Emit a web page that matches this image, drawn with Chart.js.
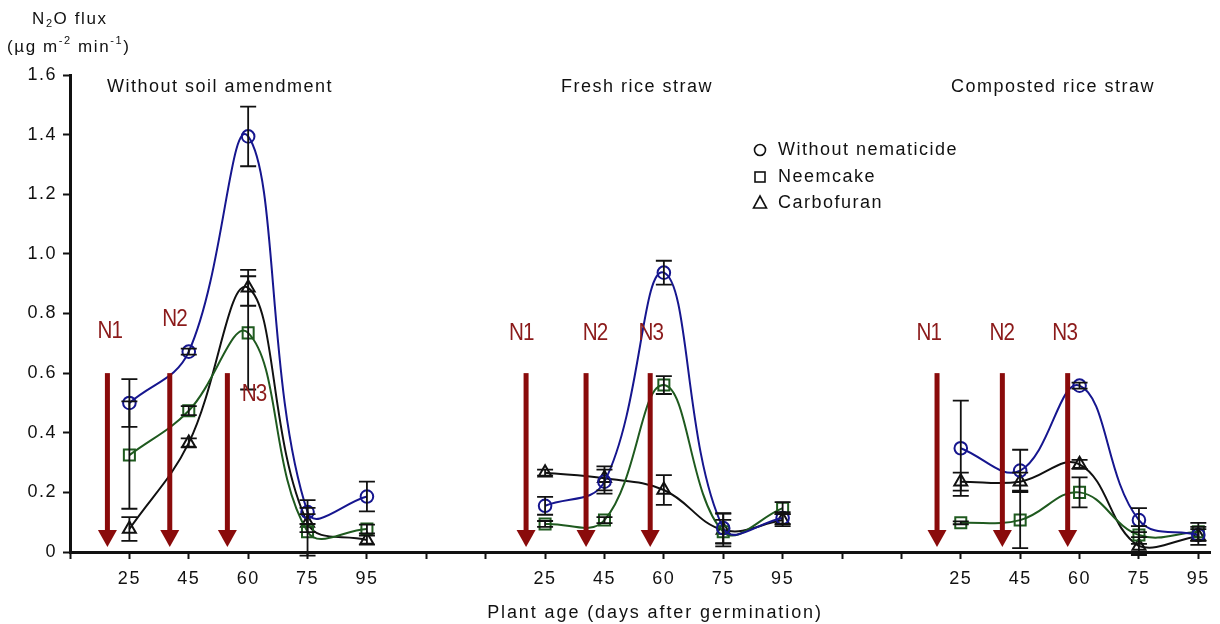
<!DOCTYPE html>
<html>
<head>
<meta charset="utf-8">
<script src="https://cdn.jsdelivr.net/npm/chart.js@4/dist/chart.umd.min.js"></script>
<style>
html,body{margin:0;padding:0;background:#fff;}
#wrap{width:1220px;height:624px;position:relative;}
</style>
</head>
<body>
<div id="wrap"><canvas id="c" width="1220" height="624"></canvas></div>
<script>
// ---- data ----
const days = ['25', '45', '60', '75', '95'];
const panelTitles = ['Without soil amendment', 'Fresh rice straw', 'Composted rice straw'];
const xTickLabels = ['', '25', '45', '60', '75', '95', '', '', '25', '45', '60', '75', '95', '', '', '25', '45', '60', '75', '95'];
const yTickValues = [0, 0.2, 0.4, 0.6, 0.8, 1.0, 1.2, 1.4, 1.6];
const yTickLabels = ['0', '0.2', '0.4', '0.6', '0.8', '1.0', '1.2', '1.4', '1.6'];
const seriesNames = ['Without nematicide', 'Neemcake', 'Carbofuran'];

// values: panel 1 (5), panel 2 (5), panel 3 (5)
const withoutNematicide = [0.50, 0.672, 1.394, 0.134, 0.186, 0.155, 0.236, 0.937, 0.080, 0.114, 0.348, 0.273, 0.558, 0.107, 0.057];
const withoutNematicideErr = [0.08, 0.01, 0.10, 0.04, 0.05, 0.03, 0.04, 0.04, 0.05, 0.02, 0.16, 0.07, 0.01, 0.04, 0.02];
const neemcake = [0.325, 0.474, 0.735, 0.068, 0.077, 0.094, 0.107, 0.560, 0.068, 0.147, 0.098, 0.107, 0.200, 0.057, 0.068];
const neemcakeErr = [0.18, 0.015, 0.19, 0.08, 0.015, 0.01, 0.01, 0.03, 0.04, 0.02, 0.005, 0.094, 0.05, 0.03, 0.03];
const carbofuran = [0.077, 0.366, 0.886, 0.097, 0.040, 0.266, 0.247, 0.208, 0.074, 0.107, 0.236, 0.236, 0.294, 0.020, 0.054];
const carbofuranErr = [0.04, 0.015, 0.06, 0.03, 0.015, 0.01, 0.04, 0.05, 0.055, 0.02, 0.03, 0.03, 0.015, 0.03, 0.03];

// N application arrows (x in axis index units) and labels
const arrowX = [0.63, 1.68, 2.65, 7.68, 8.69, 9.77, 14.6, 15.7, 16.8];
const arrowTop = 0.6;
const nLabels = ['N1', 'N2', 'N3', 'N1', 'N2', 'N3', 'N1', 'N2', 'N3'];
const nLabelX = [0.67, 1.76, 3.1, 7.6, 8.84, 9.78, 14.46, 15.69, 16.75];
const nLabelY = [0.74, 0.78, 0.53, 0.735, 0.735, 0.735, 0.735, 0.735, 0.735];

// ---- build ----
const series = [
  {name: seriesNames[0], vals: withoutNematicide, err: withoutNematicideErr, color: '#16168f', style: 'circle', r: 6.3},
  {name: seriesNames[1], vals: neemcake, err: neemcakeErr, color: '#1f5a1f', style: 'rect', r: 7.8},
  {name: seriesNames[2], vals: carbofuran, err: carbofuranErr, color: '#111111', style: 'triangle', r: 7.5}
];
const datasets = [];
series.forEach(s => {
  for (let p = 0; p < 3; p++) {
    const pts = days.map((d, i) => ({x: 1 + p * 7 + i, y: s.vals[p * 5 + i], e: s.err[p * 5 + i]}));
    datasets.push({
      label: s.name, data: pts, borderColor: s.color, borderWidth: 2,
      pointStyle: s.style, pointRadius: s.r, pointBorderWidth: 2,
      pointBorderColor: s.color, pointBackgroundColor: 'rgba(0,0,0,0)',
      tension: 0.4, fill: false
    });
  }
});

const FONT = '"Liberation Sans", Arial, sans-serif';
Chart.defaults.font.family = FONT;
Chart.defaults.font.size = 18;
Chart.defaults.color = '#111';

function richText(ctx, x, y, parts, size) {
  let cx = x;
  parts.forEach(p => {
    let fs = size, dy = 0;
    if (p.sub) { fs = 11; dy = 5; }
    if (p.sup) { fs = 11; dy = -6; }
    ctx.font = fs + 'px ' + FONT;
    ctx.fillText(p.t, cx, y + dy);
    cx += ctx.measureText(p.t).width;
  });
}

const decor = {
  id: 'decor',
  beforeDraw(chart) {
    chart.ctx.letterSpacing = '1.5px';
  },
  afterDatasetsDraw(chart) {
    const ctx = chart.ctx, xs = chart.scales.x, ys = chart.scales.y;
    // error bars
    ctx.save();
    ctx.strokeStyle = '#111';
    ctx.lineWidth = 1.8;
    chart.data.datasets.forEach(ds => {
      ds.data.forEach(pt => {
        const px = xs.getPixelForValue(pt.x);
        const y1 = ys.getPixelForValue(pt.y + pt.e);
        const y2 = ys.getPixelForValue(pt.y - pt.e);
        ctx.beginPath();
        ctx.moveTo(px, y1); ctx.lineTo(px, y2);
        ctx.moveTo(px - 8, y1); ctx.lineTo(px + 8, y1);
        ctx.moveTo(px - 8, y2); ctx.lineTo(px + 8, y2);
        ctx.stroke();
      });
    });
    ctx.restore();
    // arrows
    ctx.save();
    ctx.fillStyle = '#8a0b0b';
    arrowX.forEach(ax => {
      const px = xs.getPixelForValue(ax);
      const top = ys.getPixelForValue(arrowTop);
      const tip = ys.getPixelForValue(0.017);
      const headH = 17, headW = 9.5;
      ctx.fillRect(px - 2.5, top, 5, tip - headH - top + 1);
      ctx.beginPath();
      ctx.moveTo(px - headW, tip - headH);
      ctx.lineTo(px + headW, tip - headH);
      ctx.lineTo(px, tip);
      ctx.closePath();
      ctx.fill();
    });
    // N labels (tall, condensed)
    ctx.fillStyle = '#8b1a1a';
    ctx.font = '24px ' + FONT;
    ctx.letterSpacing = '-1px';
    ctx.textAlign = 'center';
    ctx.textBaseline = 'middle';
    nLabels.forEach((t, i) => {
      const px = xs.getPixelForValue(nLabelX[i]);
      const py = ys.getPixelForValue(nLabelY[i]);
      ctx.save();
      ctx.translate(px, py);
      ctx.scale(0.86, 1);
      ctx.fillText(t, 0, 0);
      ctx.restore();
    });
    ctx.restore();
  },
  afterDraw(chart) {
    const ctx = chart.ctx;
    ctx.save();
    ctx.fillStyle = '#111';
    ctx.letterSpacing = '1.5px';
    ctx.textBaseline = 'middle';
    ctx.textAlign = 'center';
    ctx.font = '18px ' + FONT;
    // panel titles
    const tx = [219, 636, 1052];
    panelTitles.forEach((t, i) => ctx.fillText(t, tx[i] + 1, 87));
    // x axis title
    ctx.letterSpacing = '1.9px';
    ctx.fillText('Plant age (days after germination)', 655, 613);
    // legend
    ctx.textAlign = 'left';
    ctx.letterSpacing = '1.5px';
    const ly = [150, 177, 203];
    series.forEach((s, i) => {
      ctx.font = '18px ' + FONT;
      ctx.fillText(s.name, 778, ly[i]);
    });
    ctx.strokeStyle = '#111';
    ctx.lineWidth = 1.6;
    ctx.beginPath(); ctx.arc(760, 150, 5.5, 0, Math.PI * 2); ctx.stroke();
    ctx.strokeRect(755, 172, 10, 10);
    ctx.beginPath();
    ctx.moveTo(760, 196); ctx.lineTo(766.5, 208); ctx.lineTo(753.5, 208); ctx.closePath(); ctx.stroke();
    // y title
    ctx.letterSpacing = '1.6px';
    ctx.textBaseline = 'middle';
    richText(ctx, 32, 19, [{t: 'N'}, {t: '2', sub: true}, {t: 'O flux'}], 17);
    richText(ctx, 7, 47, [{t: '(µg m'}, {t: '-2', sup: true}, {t: ' min'}, {t: '-1', sup: true}, {t: ')'}], 17);
    ctx.restore();
  }
};

new Chart(document.getElementById('c'), {
  type: 'line',
  data: {datasets},
  options: {
    responsive: false,
    animation: false,
    events: [],
    layout: {padding: {top: 75, right: 6, left: 0, bottom: 0}},
    plugins: {legend: {display: false}, tooltip: {enabled: false}},
    scales: {
      x: {
        type: 'linear', min: 0, max: 19.2,
        afterBuildTicks: sc => { sc.ticks = xTickLabels.map((l, i) => ({value: i})); },
        afterFit: sc => { sc.height = 72; },
        ticks: {
          autoSkip: false, maxRotation: 0, padding: 9, color: '#111',
          font: {size: 18},
          callback: v => xTickLabels[v] !== undefined ? xTickLabels[v] : ''
        },
        grid: {display: true, drawOnChartArea: false, drawTicks: true, tickLength: 7, tickWidth: 2, tickColor: '#111'},
        border: {display: true, color: '#111', width: 3}
      },
      y: {
        min: 0, max: 1.6,
        afterBuildTicks: sc => { sc.ticks = yTickValues.map(v => ({value: v})); },
        afterFit: sc => { sc.width = 70; },
        ticks: {
          padding: 6, color: '#111', font: {size: 18},
          callback: v => { const i = yTickValues.findIndex(t => Math.abs(t - v) < 1e-6); return i >= 0 ? yTickLabels[i] : ''; }
        },
        grid: {display: true, drawOnChartArea: false, drawTicks: true, tickLength: 7, tickWidth: 2, tickColor: '#111'},
        border: {display: true, color: '#111', width: 3}
      }
    }
  },
  plugins: [decor]
});
</script>
</body>
</html>
